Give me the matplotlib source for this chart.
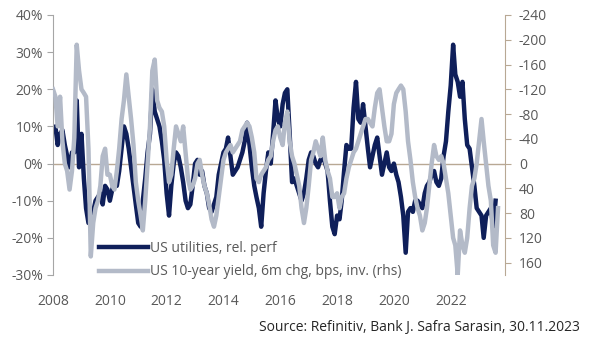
import matplotlib
matplotlib.use("Agg")
import matplotlib.pyplot as plt
import numpy as np
import pandas as pd

# US utilities relative performance (%), monthly from Jan 2008
utilities = [9, 10, 5, 8, 9, 5, 2, -1, 3, 3, 17, -1, 8, -4, -12, -16, -15, -13, -10, -9,
             -8, -11, -6, -7, -10, -7, -5, -6, -2, 4, 10, 8, 4, -1, -6, -11, -16, -17, -10, -4,
             3, 8, 20, 14, 12, 10, 6, 1, -8, -14, -6, 0, 3, 2, -1, -5, -10, -12, -11, -6,
             0, 1, -3, -2, -6, -8, -12, -13, -11, -9, -3, 0, 3, 4, 7, 2, -3, -2, -1, 1,
             3, 6, 11, 5, -1, -6, -9, -12, -17, -8, -2, 3, 0, 8, 17, 12, 10, 16, 19, 20,
             8, -5, -4, -6, -8, -10, -8, -4, 1, 3, 2, 0, -1, 1, 2, 0, -2, -10, -17, -19,
             -14, -15, -10, -2, 5, 4, 4, 15, 22, 12, 11, 16, 10, 4, -1, 2, 5, 7, 2, -3,
             0, 3, -1, -2, 0, -3, -5, -9, -14, -24, -13, -12, -13, -10, -10, -11, -12, -8, -6, -5,
             -3, -2, -5, -6, -4, 2, 6, 14, 21, 32, 24, 22, 18, 22, 12, 5, 4, -1, -6, -12,
             -13, -14, -20, -14, -13, -12, -17, -10]

# US 10-year yield, 6m change (bps), monthly from Jan 2008 (plotted inverted)
yield_chg = [-120, -108, -60, -108, -36, 0, 12, 42, 12, -42, -192, -150, -120, -114, -108, -24, 150, 96, 72, 60,
             36, -12, -24, 18, 18, 36, 42, 12, -24, -72, -102, -144, -108, -72, -30, 30, 60, 84, 108, 60,
             0, -60, -150, -168, -102, -90, -84, -60, -6, 30, 18, -24, -60, -48, -36, -60, -18, 24, 42, 36,
             24, 0, -6, 18, 36, 48, 66, 90, 102, 84, 54, 24, -6, -18, -24, -30, -18, -24, -30, -36,
             -54, -60, -66, -60, -42, -18, 24, 30, 18, 12, 6, -6, -12, -36, -54, -60, -42, -30, -66, -84,
             -36, -12, 0, 18, 36, 72, 96, 72, 36, -6, -18, -36, -24, -12, -42, -6, 12, 24, 54, 54,
             48, 72, 54, 48, 24, 6, -6, -18, -24, -36, -48, -60, -72, -72, -66, -60, -90, -114, -120, -90,
             -60, -36, -36, -48, -96, -114, -120, -126, -120, -84, -36, -6, 30, 54, 72, 84, 108, 96, 72, 36,
             0, -30, -12, -6, -12, 0, 24, 48, 84, 120, 132, 180, 108, 132, 144, 120, 72, 36, 24, 0,
             -36, -72, -36, 0, 36, 60, 132, 144, 72]

left_ticks = [-30, -20, -10, 0, 10, 20, 30, 40]
right_ticks = [160, 120, 80, 40, 0, -40, -80, -120, -160, -200, -240]
year_ticks = [2008, 2010, 2012, 2014, 2016, 2018, 2020, 2022]

labels = ["US utilities, rel. perf", "US 10-year yield, 6m chg, bps, inv. (rhs)"]
source = "Source: Refinitiv, Bank J. Safra Sarasin, 30.11.2023"

dates_u = pd.date_range("2008-01-01", periods=len(utilities), freq="MS")
dates_y = pd.date_range("2008-01-01", periods=len(yield_chg), freq="MS")

plt.rcParams['font.family'] = ['Open Sans', 'DejaVu Sans']
txt_col = "#595959"
navy = "#0f1f5a"
grey = "#b3bac8"

fig = plt.figure(figsize=(5.89, 3.43), dpi=100)
ax = fig.add_axes([53 / 589, 1 - 275 / 343, 452 / 589, 260 / 343])
ax2 = ax.twinx()

l1, = ax.plot(dates_u, utilities, color=navy, lw=3.2, solid_joinstyle='round')
l2, = ax2.plot(dates_y, yield_chg, color=grey, lw=3.2, solid_joinstyle='round')

ax.set_ylim(-30, 40)
ax2.set_ylim(180, -240)
ax.set_xlim(pd.Timestamp("2008-01-01"), pd.Timestamp("2023-11-30"))

ax.axhline(0, color="#b8a894", lw=1.0, zorder=0)

ax.set_yticks(left_ticks)
ax.set_yticklabels([f"{t}%" for t in left_ticks])
ax2.set_yticks(right_ticks)
ax2.set_yticklabels([str(t) for t in right_ticks])

ax.set_xticks([pd.Timestamp(f"{y}-01-01") for y in year_ticks])
ax.set_xticklabels([str(y) for y in year_ticks])

for a in (ax, ax2):
    a.spines['top'].set_visible(False)
    a.spines['bottom'].set_visible(False)
ax.spines['right'].set_visible(False)
ax2.spines['left'].set_visible(False)
ax.spines['left'].set_color("#a6a6a6")
ax2.spines['right'].set_color("#b8a894")

ax.tick_params(axis='y', colors=txt_col, labelsize=10, length=4, color="#a6a6a6", pad=3)
ax2.tick_params(axis='y', colors=txt_col, labelsize=10, length=4, color="#b8a894", pad=6)
ax.tick_params(axis='x', colors=txt_col, labelsize=10, length=0, pad=14)

leg = ax.legend([l1, l2], labels, loc='lower left', bbox_to_anchor=(0.075, -0.065),
                frameon=False, fontsize=10, handlelength=3.5, handletextpad=0.15,
                labelspacing=0.6, labelcolor=txt_col)
for h in leg.get_lines():
    h.set_linewidth(3.2)

fig.text(580 / 589, 1 - 327 / 343, source, ha='right', va='center', fontsize=10, color="#262626")

fig.savefig("out.png", dpi=100)
